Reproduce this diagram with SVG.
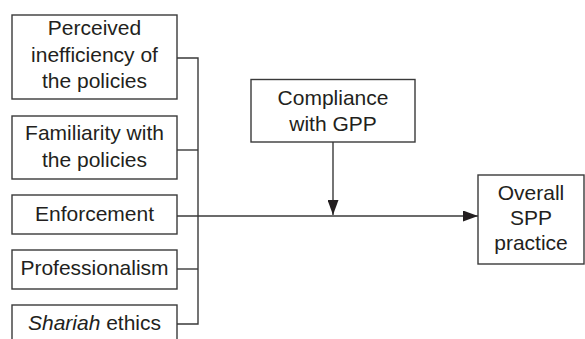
<svg xmlns="http://www.w3.org/2000/svg" width="585" height="339" viewBox="0 0 585 339">
<style>
.box{fill:#fff;stroke:#3a3a3a;stroke-width:1.4}
.t{font-family:"Liberation Sans",Arial,sans-serif;font-size:21px;fill:#231f20;text-anchor:middle}
.ln{fill:none;stroke:#3a3a3a;stroke-width:1.4}
</style>
<defs>
<marker id="ah" viewBox="0 0 15 11" refX="15" refY="5.5" markerWidth="15" markerHeight="11" markerUnits="userSpaceOnUse" orient="auto">
<path d="M0,0 L15,5.5 L0,11 Z" fill="#231f20"/>
</marker>
</defs>
<rect width="585" height="339" fill="#fff"/>
<g id="connectors">
<polyline class="ln" points="177,58 198,58 198,324 177,324"/>
<line class="ln" x1="177" y1="150" x2="198" y2="150"/>
<line class="ln" x1="177" y1="269" x2="198" y2="269"/>
<line class="ln" x1="177" y1="216" x2="478" y2="216" marker-end="url(#ah)"/>
<line class="ln" x1="333" y1="142" x2="333" y2="215" marker-end="url(#ah)"/>
</g>
<g id="n1">
<rect class="box" x="12" y="15" width="165" height="84"/>
<text class="t" x="94.5" y="35">Perceived</text>
<text class="t" x="94.5" y="61.5">inefficiency of</text>
<text class="t" x="94.5" y="88">the policies</text>
</g>
<g id="n2">
<rect class="box" x="12" y="116" width="165" height="63"/>
<text class="t" x="94.5" y="140">Familiarity with</text>
<text class="t" x="94.5" y="167">the policies</text>
</g>
<g id="n3">
<rect class="box" x="12" y="195" width="165" height="39"/>
<text class="t" x="94.5" y="221">Enforcement</text>
</g>
<g id="n4">
<rect class="box" x="12" y="250" width="165" height="39"/>
<text class="t" x="94.5" y="275">Professionalism</text>
</g>
<g id="n5">
<rect class="box" x="12" y="305" width="165" height="45"/>
<text class="t" x="94.5" y="330"><tspan font-style="italic">Shariah</tspan> ethics</text>
</g>
<g id="n6">
<rect class="box" x="251" y="79.5" width="164" height="62.5"/>
<text class="t" x="333" y="105">Compliance</text>
<text class="t" x="333" y="131">with GPP</text>
</g>
<g id="n7">
<rect class="box" x="478" y="175" width="106" height="89"/>
<text class="t" x="531" y="200">Overall</text>
<text class="t" x="531" y="225">SPP</text>
<text class="t" x="531" y="250">practice</text>
</g>
</svg>
